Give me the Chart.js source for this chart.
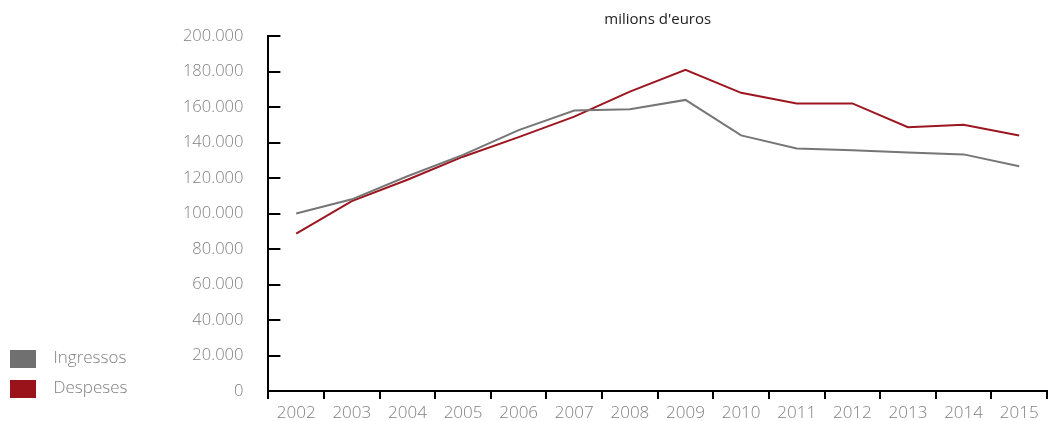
<!DOCTYPE html>
<html>
<head>
<meta charset="utf-8">
<script src="https://cdn.jsdelivr.net/npm/chart.js@4.4.1/dist/chart.umd.min.js"></script>
<style>
  html, body { margin: 0; padding: 0; background: #ffffff; }
  #wrap { width: 1057px; height: 421px; position: relative; }
</style>
</head>
<body>
<div id="wrap"><canvas id="c" width="1057" height="421"></canvas></div>
<script>
// ---- data ----
const years = ['2002','2003','2004','2005','2006','2007','2008','2009','2010','2011','2012','2013','2014','2015'];
const ingressos = [100000, 108000, 121000, 133000, 147000, 158000, 158800, 164000, 144000, 136600, 135600, 134300, 133300, 126600];
const despeses  = [88700, 107000, 119000, 132000, 143000, 154600, 168700, 181000, 168000, 162000, 162000, 148600, 150000, 144000];
const yTicks = [0, 20000, 40000, 60000, 80000, 100000, 120000, 140000, 160000, 180000, 200000];
const seriesNames = ['Ingressos', 'Despeses'];
const subtitleText = "milions d'euros";

const grayColor = '#767676';
const redColor = '#9c1620';
const labelGray = '#808080';

function fmt(v) {
  return String(v).replace(/\B(?=(\d{3})+(?!\d))/g, '.');
}

function swatch(color) {
  const cv = document.createElement('canvas');
  cv.width = 35; cv.height = 18;
  const cx = cv.getContext('2d');
  cx.fillStyle = color;
  cx.fillRect(0, 0, 26, 18);
  return cv;
}

const innerTicks = {
  id: 'innerTicks',
  afterDraw(chart) {
    const y = chart.scales.y;
    const ctx = chart.ctx;
    const left = chart.chartArea.left;
    ctx.save();
    ctx.strokeStyle = '#000';
    ctx.lineWidth = 2;
    yTicks.forEach(v => {
      const py = Math.round(y.getPixelForValue(v));
      ctx.beginPath();
      ctx.moveTo(left - 1, py);
      ctx.lineTo(left + 12, py);
      ctx.stroke();
    });
    ctx.restore();
  }
};

// legend block sits slightly below the plot's bottom edge in the reference
const legendShift = {
  id: 'legendShift',
  beforeDraw(chart) {
    if (chart.legend) {
      chart.legend.bottom = chart.chartArea.bottom + 19;
    }
  }
};

new Chart(document.getElementById('c'), {
  type: 'line',
  data: {
    labels: years,
    datasets: [
      { label: seriesNames[0], data: ingressos, borderColor: grayColor, backgroundColor: grayColor,
        borderWidth: 2, pointRadius: 0, tension: 0, pointStyle: swatch('#707070') },
      { label: seriesNames[1], data: despeses, borderColor: redColor, backgroundColor: redColor,
        borderWidth: 2, pointRadius: 0, tension: 0, pointStyle: swatch('#9a121a') }
    ]
  },
  options: {
    responsive: false,
    animation: false,
    layout: { padding: { left: -3, right: 10, top: 0, bottom: 0 } },
    plugins: {
      tooltip: { enabled: false },
      legend: {
        position: 'left',
        align: 'end',
        fullSize: false,
        labels: {
          usePointStyle: true,
          pointStyleWidth: 35,
          boxHeight: 18,
          padding: 13,
          color: labelGray,
          font: { family: 'Open Sans', size: 17, weight: '300' }
        }
      },
      title: {
        display: true,
        text: subtitleText,
        fullSize: false,
        color: '#222',
        font: { family: 'Open Sans', size: 15, weight: '400' },
        padding: { top: 11, bottom: 7 }
      }
    },
    scales: {
      x: {
        type: 'category',
        offset: true,
        grid: { offset: true, drawOnChartArea: false, color: '#000', lineWidth: 2, tickLength: 8 },
        border: { display: true, color: '#000', width: 2 },
        ticks: { color: labelGray, padding: 4, maxRotation: 0, autoSkip: false,
                 font: { family: 'Open Sans', size: 17, weight: '300' } },
        afterFit(s) { s.height = 30; }
      },
      y: {
        min: 0, max: 200000,
        afterBuildTicks(s) { s.ticks = yTicks.map(v => ({ value: v })); },
        grid: { drawOnChartArea: false, drawTicks: true, tickLength: 25, tickColor: 'rgba(0,0,0,0)' },
        border: { display: true, color: '#000', width: 2 },
        ticks: { color: labelGray, padding: 0, callback: v => fmt(v),
                 font: { family: 'Open Sans', size: 16.5, weight: '300' } },
        afterFit(s) { s.width = 131; }
      }
    }
  },
  plugins: [innerTicks, legendShift]
});
</script>
</body>
</html>
